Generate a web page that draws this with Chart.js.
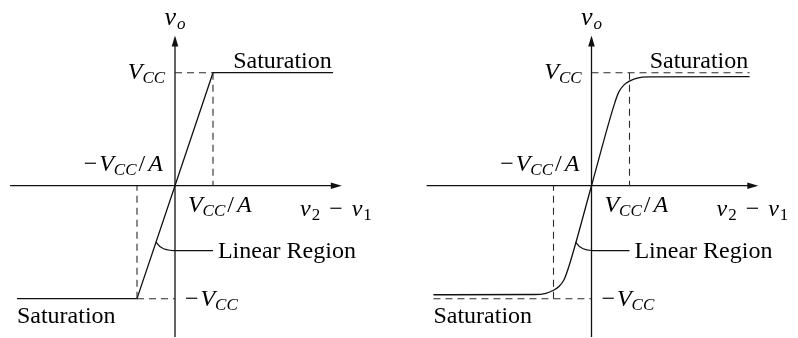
<!DOCTYPE html>
<html lang="en">
<head>
  <meta charset="UTF-8">
  <title>Op-Amp Transfer Characteristic</title>
  <script src="https://cdn.jsdelivr.net/npm/chart.js"></script>
  <style>
    body { margin: 0; background: #ffffff; }
    .row { display: flex; width: 798px; height: 338px; }
    canvas { display: block; }
  </style>
</head>
<body>
  <div class="row">
    <canvas id="ideal" width="399" height="338"></canvas>
    <canvas id="real" width="399" height="338"></canvas>
  </div>

  <script>
    // x is measured in units of V_CC/A, y in units of V_CC
    const idealX = [-4.16, -1, 1, 4.16];
    const idealY = [-1, -1, 1, 1];

    const realX = [-4.16, -1.5, -1.2, -1.0, -0.85, -0.72, -0.6, 0, 0.6, 0.72, 0.85, 1.0, 1.2, 1.5, 4.16];
    const realY = [-0.965, -0.963, -0.952, -0.925, -0.89, -0.83, -0.72, 0, 0.72, 0.83, 0.89, 0.925, 0.952, 0.963, 0.965];

    // dashed guides
    const railTopX = [0, 4.16], railTopY = [1, 1];
    const railBotX = [-4.16, 0], railBotY = [-1, -1];
    const stubTopX = [0, 1], stubTopY = [1, 1];
    const stubBotX = [-1, 0], stubBotY = [-1, -1];
    const dropTopX = [1, 1], dropTopY = [1, 0];
    const dropBotX = [-1, -1], dropBotY = [-1, 0];

    // axis extents (arrow tips at the max ends)
    const axisX = [-4.34, 4.39];
    const axisY = [-1.34, 1.33];

    const UNIT_X = 38, UNIT_Y = 113, ORIGIN_Y = 185.7;
    const INK = '#111111';

    const SERIF = '"Liberation Serif", "Times New Roman", serif';
    const TXT = '24px ' + SERIF;
    const MATH = 'italic 24px ' + SERIF;
    const SUB = 'italic 17px ' + SERIF;
    const SUBUP = '17px ' + SERIF;
    const UP = '24px ' + SERIF;

    const pts = (xs, ys) => xs.map((x, i) => ({ x: x, y: ys[i] }));

    const vcc = [{ t: 'V', f: MATH }, { t: 'CC', f: SUB, dy: 4, pad: 2 }];
    const minus = { t: '\u2212', f: UP, pad: 2 };
    const overA = [{ t: '/', f: UP, pad: 3 }, { t: 'A', f: MATH }];

    const labels = [
      { at: [0, 1.42], align: 'center', runs: [{ t: 'v', f: 'italic 26px ' + SERIF, pad: 1 }, { t: 'o', f: SUB, dy: 4 }] },
      { at: [-0.26, 0.94], align: 'right', runs: [{ t: 'V', f: MATH }, { t: 'CC', f: SUB, dy: 4 }] },
      { at: [1.53, 1.04], align: 'left', runs: [{ t: 'Saturation', f: TXT }] },
      { at: [-0.32, 0.13], align: 'right', runs: [minus].concat(vcc, overA) },
      { at: [0.34, -0.233], align: 'left', runs: vcc.concat(overA) },
      { at: [3.29, -0.27], align: 'left', runs: [
        { t: 'v', f: MATH, pad: 1 }, { t: '2', f: SUBUP, dy: 4, pad: 9 },
        { t: '\u2212', f: UP, pad: 9 }, { t: 'v', f: MATH, pad: 1 }, { t: '1', f: SUBUP, dy: 4 }] },
      { at: [1.13, -0.64], align: 'left', runs: [{ t: 'Linear Region', f: TXT }] },
      { at: [0.26, -1.065], align: 'left', runs: [minus, { t: 'V', f: MATH }, { t: 'CC', f: SUB, dy: 4 }] },
      { at: [-4.16, -1.215], align: 'left', runs: [{ t: 'Saturation', f: TXT }] }
    ];

    function drawRuns(ctx, runs, x, y, align) {
      let w = 0;
      runs.forEach(r => {
        ctx.font = r.f;
        w += ctx.measureText(r.t).width + (r.pad || 0);
      });
      let cx = align === 'right' ? x - w : align === 'center' ? x - w / 2 : x;
      runs.forEach(r => {
        ctx.font = r.f;
        ctx.fillText(r.t, cx, y + (r.dy || 0));
        cx += ctx.measureText(r.t).width + (r.pad || 0);
      });
    }

    function arrowHead(ctx, tx, ty, dir) {
      const len = 11, half = 3.3;
      ctx.beginPath();
      if (dir === 'right') {
        ctx.moveTo(tx, ty);
        ctx.lineTo(tx - len, ty - half);
        ctx.lineTo(tx - len, ty + half);
      } else {
        ctx.moveTo(tx, ty);
        ctx.lineTo(tx - half, ty + len);
        ctx.lineTo(tx + half, ty + len);
      }
      ctx.closePath();
      ctx.fill();
    }

    const diagram = {
      id: 'diagram',
      beforeDatasetsDraw(chart) {
        const { ctx, scales: { x, y } } = chart;
        const ox = x.getPixelForValue(0), oy = y.getPixelForValue(0);
        ctx.save();
        ctx.strokeStyle = INK;
        ctx.fillStyle = INK;
        ctx.lineWidth = 1.3;
        const xl = x.getPixelForValue(axisX[0]), xr = x.getPixelForValue(axisX[1]);
        const yb = y.getPixelForValue(axisY[0]), yt = y.getPixelForValue(axisY[1]);
        ctx.beginPath();
        ctx.moveTo(xl, oy); ctx.lineTo(xr - 8, oy);
        ctx.moveTo(ox, yb); ctx.lineTo(ox, yt + 8);
        ctx.stroke();
        arrowHead(ctx, xr, oy, 'right');
        arrowHead(ctx, ox, yt, 'up');
        ctx.restore();
      },
      afterDatasetsDraw(chart, args, opts) {
        const { ctx, scales: { x, y } } = chart;
        ctx.save();
        ctx.strokeStyle = INK;
        ctx.lineWidth = 1.2;
        // leader from the slope to the "Linear Region" label
        const sx = x.getPixelForValue(opts.leader[0]), sy = y.getPixelForValue(opts.leader[1]);
        const ex = x.getPixelForValue(1.0), ey = y.getPixelForValue(-0.575);
        ctx.beginPath();
        ctx.moveTo(sx, sy);
        ctx.bezierCurveTo(sx + 4, sy + 6, sx + 9, ey, sx + 22, ey);
        ctx.lineTo(ex, ey);
        ctx.stroke();

        ctx.fillStyle = '#000000';
        ctx.textBaseline = 'alphabetic';
        labels.forEach(l => {
          drawRuns(ctx, l.runs, x.getPixelForValue(l.at[0]), y.getPixelForValue(l.at[1]), l.align);
        });
        ctx.restore();
      }
    };

    function solid(data) {
      return { data: data, borderColor: INK, borderWidth: 1.3, pointRadius: 0, fill: false };
    }
    function dashed(data) {
      return { data: data, borderColor: '#2a2a2a', borderWidth: 1.1, borderDash: [7, 5], pointRadius: 0, fill: false };
    }

    function makePanel(id, originX, datasets, leader) {
      const w = 399, h = 338;
      return new Chart(document.getElementById(id), {
        type: 'line',
        data: { datasets: datasets },
        options: {
          responsive: false,
          animation: false,
          events: [],
          layout: { padding: 0 },
          plugins: { legend: { display: false }, tooltip: { enabled: false }, diagram: { leader: leader } },
          scales: {
            x: { type: 'linear', display: false, min: -originX / UNIT_X, max: (w - originX) / UNIT_X },
            y: { type: 'linear', display: false, min: -(h - ORIGIN_Y) / UNIT_Y, max: ORIGIN_Y / UNIT_Y }
          }
        },
        plugins: [diagram]
      });
    }

    makePanel('ideal', 175, [
      dashed(pts(stubTopX, stubTopY)),
      dashed(pts(dropTopX, dropTopY)),
      dashed(pts(stubBotX, stubBotY)),
      dashed(pts(dropBotX, dropBotY)),
      solid(pts(idealX, idealY))
    ], [-0.5, -0.5]);

    makePanel('real', 192.5, [
      dashed(pts(railTopX, railTopY)),
      dashed(pts(dropTopX, dropTopY)),
      dashed(pts(railBotX, railBotY)),
      dashed(pts(dropBotX, dropBotY)),
      Object.assign(solid(pts(realX, realY)), { cubicInterpolationMode: 'monotone' })
    ], [-0.42, -0.5]);
  </script>
</body>
</html>
